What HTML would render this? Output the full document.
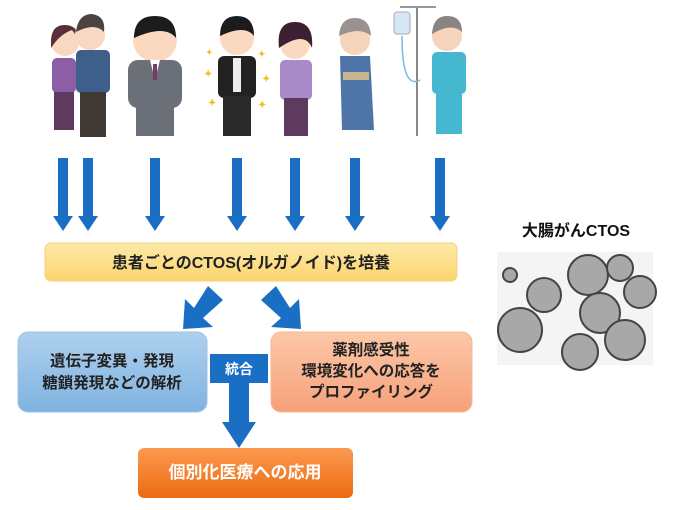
<!DOCTYPE html>
<html><head><meta charset="utf-8"><style>
html,body{margin:0;padding:0;background:#fff;width:680px;height:510px;overflow:hidden}
svg text{font-family:"Liberation Sans","Noto Sans CJK JP",sans-serif;font-weight:bold}
</style></head><body>
<svg width="680" height="510" viewBox="0 0 680 510" xmlns="http://www.w3.org/2000/svg">
<defs>
<linearGradient id="gy" x1="0" y1="0" x2="0" y2="1"><stop offset="0" stop-color="#fde9a8"/><stop offset="1" stop-color="#fbd56e"/></linearGradient>
<linearGradient id="gb" x1="0" y1="0" x2="0" y2="1"><stop offset="0" stop-color="#aed0ee"/><stop offset="1" stop-color="#7fb3e0"/></linearGradient>
<linearGradient id="gp" x1="0" y1="0" x2="0" y2="1"><stop offset="0" stop-color="#fbc8a8"/><stop offset="1" stop-color="#f6a07a"/></linearGradient>
<linearGradient id="go" x1="0" y1="0" x2="0" y2="1"><stop offset="0" stop-color="#fb9a50"/><stop offset="1" stop-color="#ec6a10"/></linearGradient>
<g id="dn"><rect x="-5" y="0" width="10" height="60" fill="#1a6fc4"/><polygon points="-10,58 10,58 0,73" fill="#1a6fc4"/></g>
</defs>

<g>
<circle cx="65" cy="42" r="14" fill="#f9d7c0"/><path d="M51 40 Q52 24 66 25 Q78 26 78 38 L72 30 Q60 34 51 48Z" fill="#5a2e3a"/>
<rect x="52" y="58" width="24" height="35" rx="5" fill="#8b5ea5"/><rect x="54" y="92" width="20" height="38" fill="#5e3b5e"/>
<circle cx="90" cy="35" r="15" fill="#f9d7c0"/><path d="M76 32 Q78 14 92 14 Q106 16 104 32 Q95 22 76 32Z" fill="#4a4440"/>
<rect x="76" y="50" width="34" height="43" rx="5" fill="#3e5f8a"/><rect x="80" y="92" width="26" height="45" fill="#403a36"/>
<circle cx="155" cy="40" r="22" fill="#fbd8c0"/><path d="M134 38 Q134 16 155 16 Q176 16 176 38 Q165 24 134 38Z" fill="#1c1c1c"/>
<rect x="128" y="60" width="54" height="48" rx="10" fill="#6b7078"/><polygon points="150,60 160,60 155,80" fill="#fff"/><rect x="153" y="64" width="4" height="16" fill="#7a3a6a"/>
<rect x="136" y="104" width="38" height="32" fill="#6b7078"/>
<circle cx="237" cy="38" r="17" fill="#fbd8c0"/><path d="M220 36 Q220 16 237 16 Q254 16 254 36 Q245 24 220 36Z" fill="#1c1c1c"/>
<rect x="218" y="56" width="38" height="42" rx="6" fill="#222"/><rect x="233" y="58" width="8" height="34" fill="#eee"/><rect x="223" y="96" width="28" height="40" fill="#2a2a2a"/>
<text x="204" y="77" font-size="10" fill="#f0c020">✦</text><text x="262" y="82" font-size="10" fill="#f0c020">✦</text><text x="208" y="106" font-size="10" fill="#f0c020">✦</text><text x="258" y="108" font-size="10" fill="#f0c020">✦</text><text x="206" y="55" font-size="8" fill="#f0c020">✦</text><text x="258" y="57" font-size="9" fill="#f0c020">✦</text>
<circle cx="295" cy="44" r="15" fill="#fbd8c0"/><path d="M279 48 Q276 22 295 22 Q314 22 312 48 Q305 30 279 48Z" fill="#3a2030"/>
<rect x="280" y="60" width="32" height="40" rx="5" fill="#a98ac8"/><rect x="284" y="98" width="24" height="38" fill="#5e3b5e"/>
<circle cx="355" cy="40" r="15" fill="#f6d4bc"/><path d="M339 36 Q340 18 355 18 Q370 18 371 36 Q360 26 339 36Z" fill="#9a9290"/>
<path d="M340 56 L370 56 L374 130 L342 130Z" fill="#4f74a8"/><rect x="343" y="72" width="26" height="8" fill="#c9b490"/>
<rect x="416" y="8" width="2" height="128" fill="#888"/><rect x="400" y="6" width="36" height="2" fill="#999"/>
<rect x="394" y="12" width="16" height="22" rx="3" fill="#d7e6f3" stroke="#aab" stroke-width="1"/>
<path d="M402 36 Q402 90 420 80" stroke="#7fb8e0" fill="none" stroke-width="1.5"/>
<circle cx="447" cy="36" r="15" fill="#f6d4bc"/><path d="M432 34 Q433 16 447 16 Q462 16 462 32 Q452 22 432 34Z" fill="#8a8480"/>
<rect x="432" y="52" width="34" height="42" rx="5" fill="#45b8d0"/><rect x="436" y="92" width="26" height="42" fill="#45b8d0"/>
</g>

<use href="#dn" x="63" y="158"/><use href="#dn" x="88" y="158"/><use href="#dn" x="155" y="158"/><use href="#dn" x="237" y="158"/><use href="#dn" x="295" y="158"/><use href="#dn" x="355" y="158"/><use href="#dn" x="440" y="158"/>

<rect x="45" y="243" width="412" height="38" rx="6" fill="url(#gy)" stroke="#f5d27a"/>
<text x="251" y="268" font-size="16" text-anchor="middle" fill="#222">患者ごとのCTOS(オルガノイド)を培養</text>

<polygon points="208,286 223,300 203,318 213,327 183,329 185,299 194,308" fill="#1a6fc4"/>
<polygon points="276,286 261,300 281,318 271,327 301,329 299,299 290,308" fill="#1a6fc4"/>

<rect x="18" y="332" width="189" height="80" rx="10" fill="url(#gb)" stroke="#9cc3e6"/>
<text x="112" y="366" font-size="15.5" text-anchor="middle" fill="#222">遺伝子変異・発現</text>
<text x="112" y="388" font-size="15.5" text-anchor="middle" fill="#222">糖鎖発現などの解析</text>

<rect x="271" y="332" width="201" height="80" rx="10" fill="url(#gp)" stroke="#f5b896"/>
<text x="371" y="355" font-size="15.5" text-anchor="middle" fill="#222">薬剤感受性</text>
<text x="371" y="376" font-size="15.5" text-anchor="middle" fill="#222">環境変化への応答を</text>
<text x="371" y="397" font-size="15.5" text-anchor="middle" fill="#222">プロファイリング</text>

<rect x="210" y="354" width="58" height="29" fill="#1a6fc4"/>
<rect x="229" y="382" width="20" height="42" fill="#1a6fc4"/>
<polygon points="222,422 256,422 239,448" fill="#1a6fc4"/>
<text x="239" y="374" font-size="14" text-anchor="middle" fill="#fff">統合</text>

<rect x="138" y="448" width="215" height="50" rx="6" fill="url(#go)"/>
<text x="245" y="478" font-size="17" text-anchor="middle" fill="#fff">個別化医療への応用</text>

<text x="576" y="236" font-size="16" text-anchor="middle" fill="#111">大腸がんCTOS</text>
<rect x="497" y="252" width="156" height="113" fill="#f4f4f4"/>
<g fill="#a8a8a8" stroke="#444" stroke-width="2">
<circle cx="520" cy="330" r="22"/><circle cx="544" cy="295" r="17"/><circle cx="588" cy="275" r="20"/><circle cx="600" cy="313" r="20"/>
<circle cx="580" cy="352" r="18"/><circle cx="625" cy="340" r="20"/><circle cx="640" cy="292" r="16"/><circle cx="620" cy="268" r="13"/><circle cx="510" cy="275" r="7"/>
</g>
</svg>
</body></html>
